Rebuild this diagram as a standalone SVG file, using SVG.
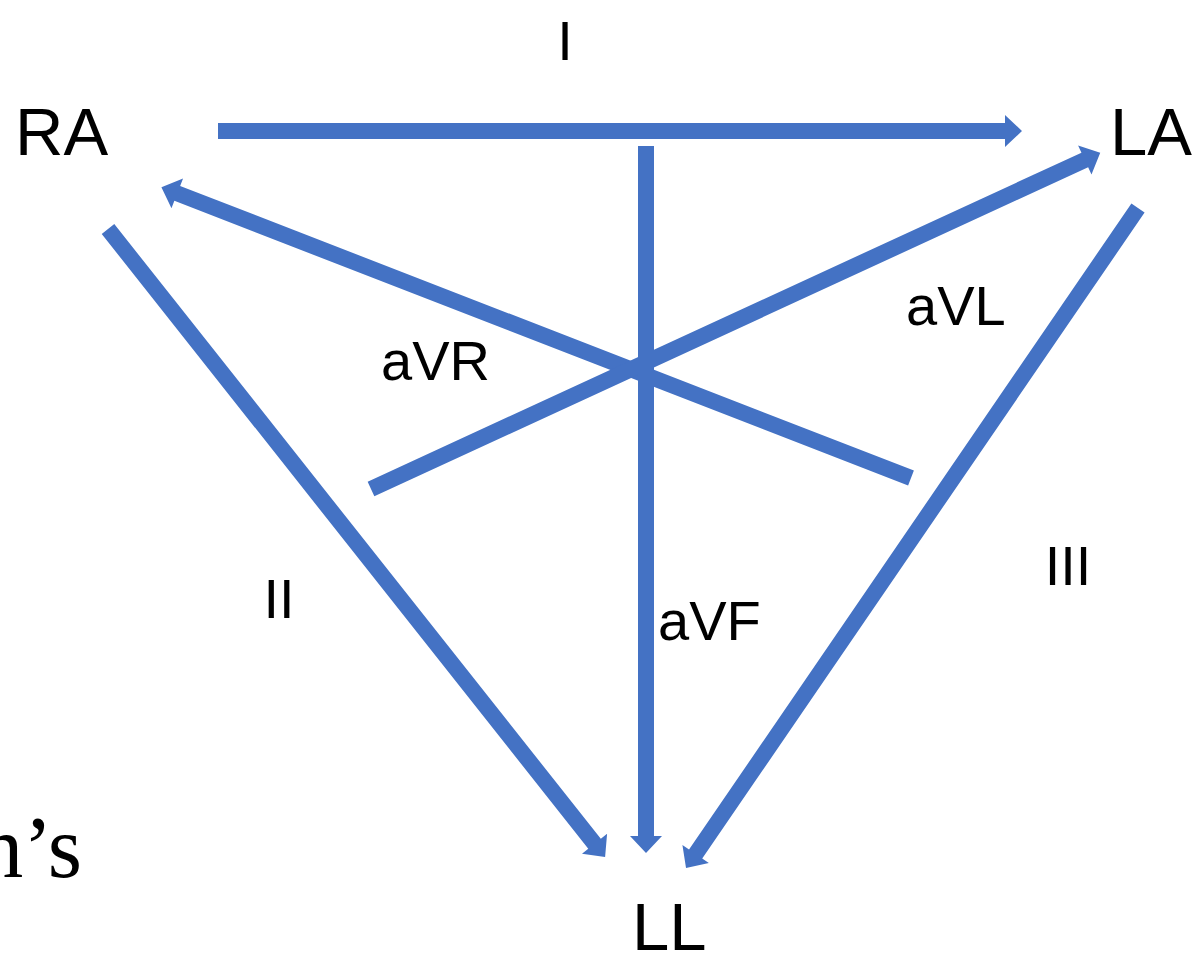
<svg xmlns="http://www.w3.org/2000/svg" width="1201" height="957" viewBox="0 0 1201 957">
  <style>
    .lbl { font-family: "Liberation Sans", Arial, sans-serif; fill: #000; }
    .big { font-size: 67px; }
    .mid { font-size: 56px; }
    .serif { font-family: "Liberation Serif", "Times New Roman", serif; font-size: 88px; fill: #000; }
    .arrow { fill: #4472C4; }
  </style>
  <rect width="1201" height="957" fill="#fff"/>

  <!-- lead vectors: block arrows drawn along +x, then placed by translate/rotate -->
  <g id="connectors">
    <!-- aVR: from lower right up to RA -->
    <polygon class="arrow" transform="translate(911,478) rotate(201.2)" points="0,-8 787,-8 787,-16 804,0 787,16 787,8 0,8"/>
    <!-- aVL: from lower left up to LA -->
    <polygon class="arrow" transform="translate(371,489) rotate(-24.75)" points="0,-8 786,-8 786,-16 803,0 786,16 786,8 0,8"/>
    <!-- Lead I: RA to LA -->
    <polygon class="arrow" transform="translate(218,131)" points="0,-8 787,-8 787,-16 804,0 787,16 787,8 0,8"/>
    <!-- Lead II: RA to LL -->
    <polygon class="arrow" transform="translate(108,229) rotate(51.64)" points="0,-8 784,-8 784,-16 801,0 784,16 784,8 0,8"/>
    <!-- Lead III: LA to LL -->
    <polygon class="arrow" transform="translate(1138,208) rotate(124.4)" points="0,-8 783,-8 783,-16 800,0 783,16 783,8 0,8"/>
    <!-- aVF: centre down to LL -->
    <polygon class="arrow" transform="translate(646,146) rotate(90)" points="0,-8 690,-8 690,-16 707,0 690,16 690,8 0,8"/>
  </g>

  <g id="node-RA"><text class="lbl big" x="15" y="155">RA</text></g>
  <g id="node-LA"><text class="lbl big" x="1110" y="155">LA</text></g>
  <g id="node-LL"><text class="lbl big" x="632" y="950">LL</text></g>

  <g id="lead-labels">
    <text class="lbl mid" x="565" y="60" text-anchor="middle">I</text>
    <text class="lbl mid" x="279" y="618" text-anchor="middle">II</text>
    <text class="lbl mid" x="1068" y="585" text-anchor="middle">III</text>
    <text class="lbl mid" x="381" y="380">aVR</text>
    <text class="lbl mid" x="906" y="325">aVL</text>
    <text class="lbl mid" x="658" y="640">aVF</text>
  </g>

  <g id="caption"><text class="serif" x="82" y="877" text-anchor="end">n’s</text></g>
</svg>
